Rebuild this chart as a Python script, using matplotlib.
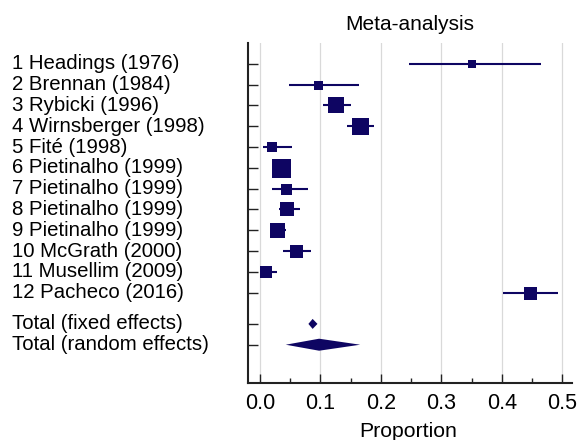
import matplotlib
matplotlib.use("Agg")
import matplotlib.pyplot as plt
import matplotlib.transforms as mtransforms
import numpy as np

plt.rcParams['font.family'] = ['Liberation Sans', 'DejaVu Sans']

studies = ["1 Headings (1976)", "2 Brennan (1984)", "3 Rybicki (1996)",
           "4 Wirnsberger (1998)", "5 Fité (1998)", "6 Pietinalho (1999)",
           "7 Pietinalho (1999)", "8 Pietinalho (1999)", "9 Pietinalho (1999)",
           "10 McGrath (2000)", "11 Musellim (2009)", "12 Pacheco (2016)"]
proportion = [0.350, 0.0955, 0.126, 0.166, 0.020, 0.035, 0.043, 0.045, 0.028, 0.059, 0.0094, 0.447]
ci_low     = [0.247, 0.0486, 0.104, 0.1435, 0.0055, 0.027, 0.020, 0.031, 0.0166, 0.0386, 0.0, 0.402]
ci_high    = [0.465, 0.164, 0.150, 0.189, 0.0525, 0.044, 0.0795, 0.0667, 0.0425, 0.085, 0.0287, 0.493]
weights    = [8.7, 9.0, 16.0, 17.0, 10.0, 19.0, 11.0, 14.0, 15.0, 13.0, 12.0, 13.0]

total_labels = ["Total (fixed effects)", "Total (random effects)"]
total_est  = [0.087, 0.0977]
total_low  = [0.080, 0.0425]
total_high = [0.095, 0.1656]

xticks = [0.0, 0.1, 0.2, 0.3, 0.4, 0.5]
xticklabels = ["0.0", "0.1", "0.2", "0.3", "0.4", "0.5"]

color = '#0e0562'
W, H = 578, 440
fig = plt.figure(figsize=(W / 100, H / 100), dpi=100)
ax_left, ax_right, ax_top, ax_bottom = 248.3, 572, 43, 383
ax = fig.add_axes([ax_left / W, (H - ax_bottom) / H,
                   (ax_right - ax_left) / W, (ax_bottom - ax_top) / H])

n = len(studies)
ys = np.arange(1, n + 1, dtype=float)
ys_tot = np.array([n + 1.5, n + 2.5])

ax.set_xlim(-0.0194, 0.516)
ax.set_ylim(n + 2.5 + 1.84, 0)

for x in xticks:
    ax.axvline(x, color='#d9d9d9', lw=0.9, zorder=0)

for y, p, lo, hi, w in zip(ys, proportion, ci_low, ci_high, weights):
    ax.plot([lo, hi], [y, y], color=color, lw=1.5, solid_capstyle='butt', zorder=2)
    ax.plot([p], [y], marker='s', markersize=w * 0.72, color=color,
            markeredgewidth=0, linestyle='none', zorder=3)

row_px = (ax_bottom - ax_top) / (n + 2.5 + 1.84)
half_heights = [5.0 / row_px, 6.0 / row_px]
for y, e, lo, hi, hh in zip(ys_tot, total_est, total_low, total_high, half_heights):
    ax.fill([lo, e, hi, e], [y, y - hh, y, y + hh], color=color, lw=0, zorder=3)

ax.spines['top'].set_visible(False)
ax.spines['right'].set_visible(False)
for s in ['left', 'bottom']:
    ax.spines[s].set_linewidth(1.5)
    ax.spines[s].set_color('#222222')

ax.set_yticks(list(ys) + list(ys_tot))
ax.set_yticklabels([])
ax.tick_params(axis='y', direction='in', length=7.5, width=1.0, color='#222222')

ax.set_xticks(xticks)
ax.set_xticklabels(xticklabels, fontsize=15.5)
ax.set_xticks(np.arange(0.05, 0.5, 0.1), minor=True)
ax.tick_params(axis='x', which='major', direction='in', length=6.5, width=1.0, pad=7, color='#222222')
ax.tick_params(axis='x', which='minor', direction='in', length=3.5, width=1.0, color='#222222')

trans = mtransforms.blended_transform_factory(fig.transFigure, ax.transData)
for y, lab in zip(list(ys) + list(ys_tot), studies + total_labels):
    ax.text(12.0 / W, y, lab, transform=trans, ha='left', va='center', fontsize=14.7)

fig.text(410 / W, 1 - 25 / H, "Meta-analysis", ha='center', va='center', fontsize=15)
fig.text(408 / W, 1 - 431 / H, "Proportion", ha='center', va='center', fontsize=15.3)

fig.savefig("out.png", dpi=100)
